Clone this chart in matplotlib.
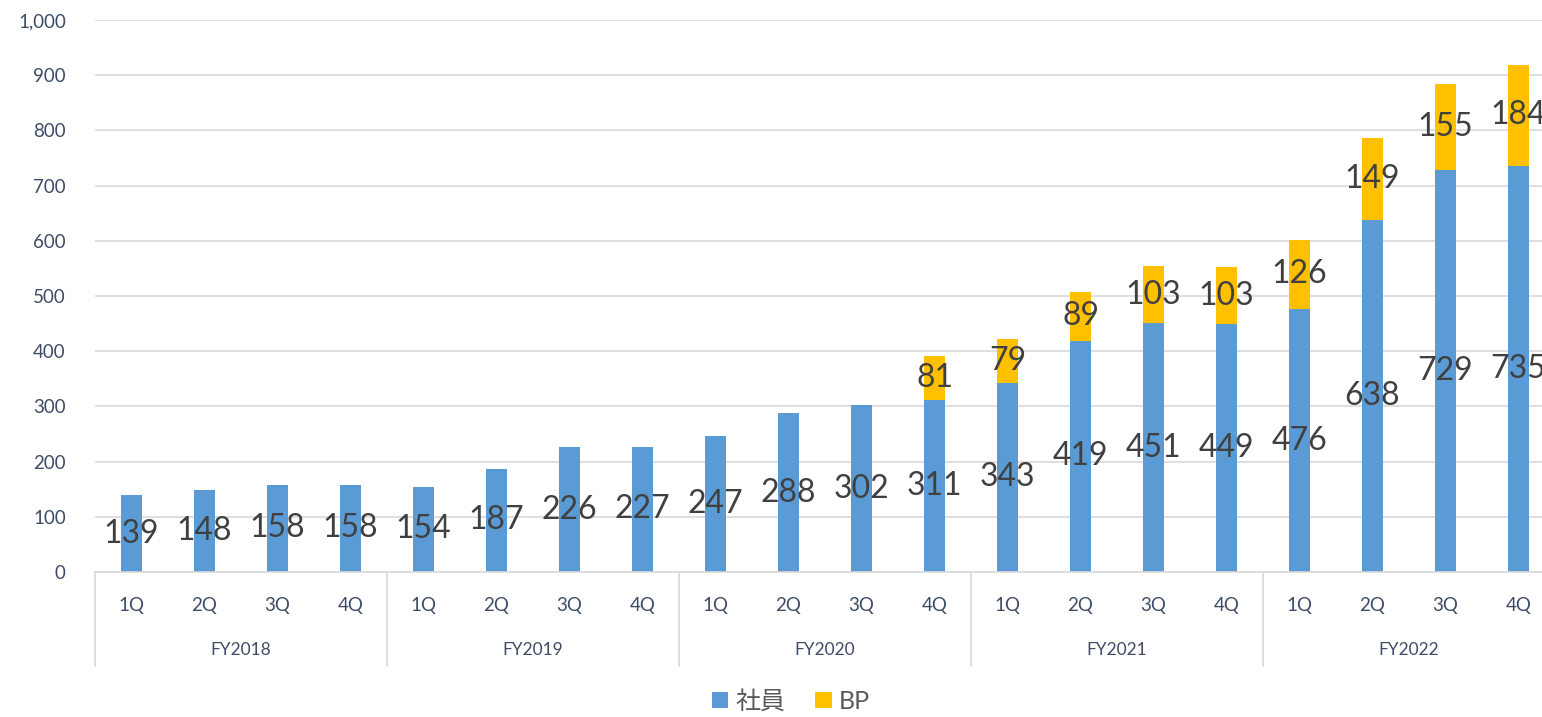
import numpy as np
import matplotlib.pyplot as plt
from matplotlib.transforms import blended_transform_factory

# データ
quarters = ["1Q", "2Q", "3Q", "4Q"]
years = ["FY2018", "FY2019", "FY2020", "FY2021", "FY2022"]
shain = [139, 148, 158, 158, 154, 187, 226, 227, 247, 288, 302, 311,
         343, 419, 451, 449, 476, 638, 729, 735]
bp = [0, 0, 0, 0, 0, 0, 0, 0, 0, 0, 0, 81,
      79, 89, 103, 103, 126, 149, 155, 184]

plt.rcParams['font.family'] = ['Lato', 'Noto Sans CJK JP', 'DejaVu Sans']

c_blue = "#5B9BD5"
c_gold = "#FFC000"
c_axis = "#3E4C66"
c_lab = "#404040"

fig = plt.figure(figsize=(15.42, 7.17), dpi=100)
ax = fig.add_axes([95 / 1542, 1 - 572 / 717, 1460 / 1542, 552 / 717])

x = np.arange(len(shain))
shain = np.array(shain)
bp = np.array(bp)
w = 0.29

b1 = ax.bar(x, shain, width=w, color=c_blue, label="社員", zorder=2)
b2 = ax.bar(x, bp, width=w, bottom=shain, color=c_gold, label="BP", zorder=2)

# データラベル
for i in x:
    ax.text(i, shain[i] / 2, str(shain[i]), ha="center", va="center",
            fontsize=23, color=c_lab, zorder=3)
    if bp[i] > 0:
        ax.text(i, shain[i] + bp[i] / 2, str(bp[i]), ha="center", va="center",
                fontsize=23, color=c_lab, zorder=3)

ax.set_xlim(-0.5, len(shain) - 0.5)
ax.set_ylim(0, 1000)
ax.set_yticks(np.arange(0, 1001, 100))
ax.set_yticklabels([f"{v:,}" for v in range(0, 1001, 100)])
ax.yaxis.grid(True, color="#D9D9D9", linewidth=1.2, zorder=0)
ax.tick_params(axis="y", length=0, labelsize=13.5, labelcolor=c_axis, pad=21)

for s in ["top", "right", "left"]:
    ax.spines[s].set_visible(False)
ax.spines["bottom"].set_color("#D9D9D9")
ax.spines["bottom"].set_linewidth(1.2)

# 2段のカテゴリ軸
ax.set_xticks(x)
ax.set_xticklabels(quarters * len(years))
ax.tick_params(axis="x", length=0, labelsize=13.5, labelcolor=c_axis, pad=18)

trans = blended_transform_factory(ax.transData, ax.transAxes)
nq = len(quarters)
for k, yr in enumerate(years):
    ax.text(k * nq + (nq - 1) / 2, -0.142, yr, transform=trans, ha="center",
            va="center", fontsize=12.5, color=c_axis)
for k in range(len(years) + 1):
    ax.plot([k * nq - 0.5] * 2, [0, -0.17], transform=trans, color="#D9D9D9",
            linewidth=1.2, clip_on=False)

leg = fig.legend(handles=[b1, b2], loc="center", bbox_to_anchor=(0.513, 0.022),
                 ncol=2, frameon=False, fontsize=18, handlelength=0.65,
                 handleheight=0.65, handletextpad=0.3, columnspacing=1.2)
for t in leg.get_texts():
    t.set_color("#595959")

fig.savefig("out.png", dpi=100)
